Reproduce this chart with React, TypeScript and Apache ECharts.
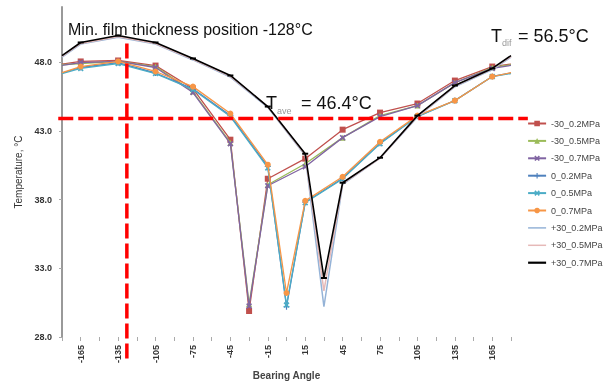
import { useEffect, useRef } from "react";
import * as echarts from "echarts";

// Bearing angles (deg) for each test group; each group has its own minimum-film-thickness point
const ANGLES_M30 = [-180, -165, -135, -105, -75, -45, -30, -15, 15, 45, 75, 105, 135, 165, 180];
const ANGLES_0 = [-180, -165, -135, -105, -75, -45, -15, 0, 15, 45, 75, 105, 135, 165, 180];
const ANGLES_P30 = [-180, -165, -135, -105, -75, -45, -15, 15, 30, 45, 75, 105, 135, 165, 180];

// Temperatures (°C)
const M30_02 = [47.85, 48.04, 48.11, 47.74, 46.07, 42.35, 29.89, 39.51, 40.97, 43.08, 44.32, 44.98, 46.65, 47.67, 47.85];
const M30_05 = [47.8, 47.89, 48.04, 47.67, 45.85, 42.13, 30.4, 39.07, 40.6, 42.5, 44.1, 44.83, 46.5, 47.6, 47.8];
const M30_07 = [47.75, 47.96, 48.04, 47.6, 45.78, 42.06, 30.25, 39.0, 40.38, 42.5, 44.03, 44.83, 46.5, 47.53, 47.75];
const Z_02 = [47.2, 47.6, 47.95, 47.2, 46.05, 44.1, 40.4, 30.2, 37.8, 39.55, 42.1, 44.05, 45.2, 46.95, 47.2];
const Z_05 = [47.16, 47.53, 47.89, 47.16, 46.0, 44.03, 40.3, 30.32, 37.76, 39.5, 42.06, 44.03, 45.19, 46.94, 47.16];
const Z_07 = [47.23, 47.67, 48.04, 47.31, 46.21, 44.25, 40.53, 31.2, 37.9, 39.65, 42.2, 44.1, 45.19, 46.94, 47.23];
const P30_02 = [48.35, 49.3, 49.8, 49.3, 48.15, 46.9, 44.7, 41.2, 30.2, 39.1, 41.0, 44.0, 46.2, 47.45, 48.35];
const P30_05 = [48.4, 49.35, 49.85, 49.35, 48.2, 46.95, 44.75, 41.25, 31.35, 39.15, 41.0, 44.05, 46.25, 47.5, 48.4];
const P30_07 = [48.47, 49.42, 49.93, 49.42, 48.26, 47.02, 44.76, 41.33, 32.29, 39.22, 41.04, 44.1, 46.29, 47.53, 48.47];

const SERIES_NAMES = [
  "-30_0.2MPa", "-30_0.5MPa", "-30_0.7MPa",
  "0_0.2MPa", "0_0.5MPa", "0_0.7MPa",
  "+30_0.2MPa", "+30_0.5MPa", "+30_0.7MPa",
];

// Y-axis ticks
const Y_MIN = 28;
const Y_MAX = 52;
const Y_STEP = 5;
// X-axis
const X_MIN = -180;
const X_MAX = 180;
const X_STEP = 15;

// Annotation values
const MIN_FILM_ANGLE = -128;
const AVE_LINE_VALUE = 43.9;

const X_PATH = "path://M0 2L2 0L5 3L8 0L10 2L7 5L10 8L8 10L5 7L2 10L0 8L3 5Z";
const PLUS_PATH = "path://M4 0H6V4H10V6H6V10H4V6H0V4H4Z";

const FONT = "'Liberation Sans', Arial, sans-serif";

function build(angles: number[], vals: number[]) {
  return angles.map((a, i) => {
    const item: any = { value: [a, vals[i]] };
    if (a === X_MIN || a === X_MAX) item.symbol = "none";
    return item;
  });
}

export default function App() {
  const ref = useRef<HTMLDivElement>(null);

  useEffect(() => {
    const chart = echarts.init(ref.current!, null, { renderer: "svg" });

    const defs = [
      { angles: ANGLES_M30, vals: M30_02, color: "#C0504D", symbol: "rect", size: 6, width: 1.3, mark: true },
      { angles: ANGLES_M30, vals: M30_05, color: "#9BBB59", symbol: "triangle", size: 6, width: 1.3, mark: true },
      { angles: ANGLES_M30, vals: M30_07, color: "#8064A2", symbol: X_PATH, size: 6, width: 1.3, mark: true },
      { angles: ANGLES_0, vals: Z_02, color: "#4F81BD", symbol: PLUS_PATH, size: 6, width: 1.3, mark: true },
      { angles: ANGLES_0, vals: Z_05, color: "#4BACC6", symbol: X_PATH, size: 6, width: 1.3, mark: true },
      { angles: ANGLES_0, vals: Z_07, color: "#F79646", symbol: "circle", size: 6, width: 1.3, mark: true },
      { angles: ANGLES_P30, vals: P30_02, color: "#95B3D7", symbol: "rect", size: 1, width: 1.5, mark: false },
      { angles: ANGLES_P30, vals: P30_05, color: "#E6B9B8", symbol: "rect", size: 1, width: 1.5, mark: false },
      { angles: ANGLES_P30, vals: P30_07, color: "#000000", symbol: "rect", size: [6, 2], width: 1.6, mark: true },
    ];

    const series = defs.map((d, i) => ({
      name: SERIES_NAMES[i],
      type: "line",
      data: build(d.angles, d.vals),
      symbol: d.symbol,
      symbolSize: d.size,
      showSymbol: d.mark,
      color: d.color,
      itemStyle: { color: d.color },
      lineStyle: { color: d.color, width: d.width },
      z: 2 + i,
    }));

    const legendData = SERIES_NAMES.map((n, i) =>
      i >= 6
        ? { name: n, itemStyle: { opacity: 0 }, lineStyle: { width: i === 8 ? 2.2 : 1.5 } }
        : { name: n }
    );

    chart.setOption({
      animation: false,
      textStyle: { fontFamily: FONT },
      grid: { left: 62, right: 94, top: 7, bottom: 54, containLabel: false },
      legend: {
        orient: "vertical",
        left: 522,
        top: 114,
        itemWidth: 18,
        itemHeight: 7,
        itemGap: 8.4,
        textStyle: { fontSize: 9, color: "#444", fontFamily: FONT },
        data: legendData,
      },
      xAxis: {
        type: "value",
        min: X_MIN,
        max: X_MAX,
        interval: X_STEP,
        name: "Bearing Angle",
        nameLocation: "middle",
        nameGap: 31,
        nameTextStyle: { fontSize: 10, fontWeight: "bold", color: "#444", fontFamily: FONT },
        axisLine: { show: false, onZero: false },
        axisTick: { show: true, length: 4, lineStyle: { color: "#aaa" } },
        splitLine: { show: false },
        axisLabel: {
          rotate: 90,
          margin: 8,
          fontSize: 9,
          fontWeight: "bold",
          color: "#333",
          formatter: (v: number) => (Math.abs(v) % 30 === 15 ? String(v) : ""),
        },
      },
      yAxis: {
        type: "value",
        min: Y_MIN,
        max: Y_MAX,
        interval: Y_STEP,
        name: "Temperature, °C",
        nameLocation: "middle",
        nameGap: 26,
        nameTextStyle: { fontSize: 10, color: "#333", fontFamily: FONT },
        axisLine: { show: true, onZero: false, lineStyle: { color: "#999", width: 2 } },
        axisTick: { show: true, length: 3, lineStyle: { color: "#aaa" } },
        splitLine: { show: false },
        axisLabel: {
          margin: 10,
          fontSize: 9,
          fontWeight: "bold",
          color: "#333",
          showMaxLabel: false,
          formatter: (v: number) => v.toFixed(1),
        },
      },
      series,
    });

    const toPx = (x: number, y: number) => chart.convertToPixel({ gridIndex: 0 }, [x, y]) as number[];
    const hStart = toPx(X_MIN - 3, AVE_LINE_VALUE);
    const hEnd = toPx(X_MAX + 13.5, AVE_LINE_VALUE);
    const vTop = toPx(MIN_FILM_ANGLE, 49.35);
    const vBot = toPx(MIN_FILM_ANGLE, 26.1);
    const dash = { stroke: "#FF0000", lineWidth: 3.5, lineDash: [15, 5] };

    chart.setOption({
      graphic: [
        { type: "line", z: 100, shape: { x1: hStart[0], y1: hStart[1], x2: hEnd[0], y2: hEnd[1] }, style: dash },
        { type: "line", z: 100, shape: { x1: vTop[0], y1: vTop[1], x2: vBot[0], y2: vBot[1] }, style: dash },
        {
          type: "text", z: 110, left: 68, top: 21,
          style: { text: "Min. film thickness position -128°C", fill: "#111", font: `16px ${FONT}` },
        },
        { type: "text", z: 110, left: 266, top: 94, style: { text: "T", fill: "#111", font: `18px ${FONT}` } },
        { type: "text", z: 110, left: 277, top: 106, style: { text: "ave", fill: "#999", font: `9px ${FONT}` } },
        { type: "text", z: 110, left: 301, top: 94, style: { text: "= 46.4°C", fill: "#111", font: `18px ${FONT}` } },
        { type: "text", z: 110, left: 491, top: 27, style: { text: "T", fill: "#111", font: `18px ${FONT}` } },
        { type: "text", z: 110, left: 502, top: 38, style: { text: "dif", fill: "#999", font: `9px ${FONT}` } },
        { type: "text", z: 110, left: 518, top: 27, style: { text: "= 56.5°C", fill: "#111", font: `18px ${FONT}` } },
      ],
    });

    return () => chart.dispose();
  }, []);

  return <div ref={ref} style={{ position: "fixed", left: 0, top: 0, width: 605, height: 391 }} />;
}
